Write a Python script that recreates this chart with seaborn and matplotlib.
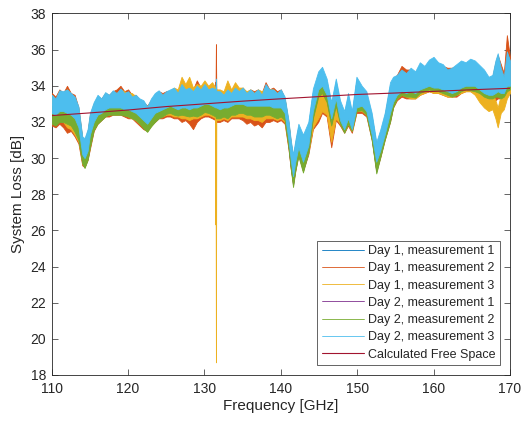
import pandas as pd
import seaborn as sns
import matplotlib
matplotlib.use('Agg')
import matplotlib.pyplot as plt

# frequency points (GHz) where the trace envelopes were read
freq = [110, 110.5, 111, 111.5, 112, 112.5, 113, 113.5, 114, 114.3,
        114.7, 115, 115.5, 116, 116.5, 117, 117.5, 118, 118.5, 119,
        119.5, 120, 120.5, 121, 121.5, 122, 122.5, 123, 123.5, 124,
        124.5, 125, 125.5, 126, 126.5, 127, 127.5, 128, 128.5, 129,
        129.5, 130, 130.5, 131, 131.45, 131.5, 131.55, 132, 132.5, 133,
        133.5, 134, 134.5, 135, 135.5, 136, 136.5, 137, 137.5, 138,
        138.5, 139, 139.5, 140, 140.5, 141, 141.3, 141.6, 141.9, 142.3,
        142.9, 143.6, 144.2, 144.9, 145.4, 146.0, 146.6, 147.2, 147.75, 148.3,
        148.8, 149.3, 149.9, 150.6, 151.2, 151.9, 152.5, 153.0, 153.6, 154.3,
        154.7, 155.2, 155.8, 156.4, 157, 157.6, 158.2, 158.8, 159.4, 160,
        160.6, 161.2, 161.8, 162.4, 163, 163.6, 164.2, 164.8, 165.4, 166,
        166.6, 167.2, 167.7, 168.1, 168.4, 168.8, 169.2, 169.6, 170]

# Day 1, measurement 1 (min / max of the ripple)
d1m1_lo = [32.6, 32.5, 32.7, 32.7, 32.6, 32.5, 32.3, 31.8, 30.3, 30.1,
           30.5, 31.4, 32.1, 32.5, 32.6, 32.8, 32.9, 32.9, 32.9, 32.9,
           32.8, 32.8, 32.7, 32.6, 32.4, 32.2, 32.0, 32.3, 32.6, 32.7,
           32.8, 32.9, 33.0, 32.9, 32.8, 32.9, 32.9, 32.8, 32.9, 32.9,
           33.0, 33.1, 33.1, 33.0, 32.9, 32.9, 32.9, 32.8, 32.9, 32.9,
           33.0, 33.1, 33.1, 33.1, 33.0, 33.0, 33.0, 33.0, 33.0, 33.0,
           33.0, 32.9, 32.9, 32.9, 32.6, 31.1, 30.0, 29.1, 29.9, 30.7,
           29.9, 30.8, 32.7, 33.9, 34.1, 33.6, 32.3, 33.4, 32.2, 31.7,
           32.3, 31.7, 32.9, 33.0, 32.7, 31.4, 29.9, 30.5, 31.4, 32.6,
           33.2, 33.6, 33.8, 33.7, 33.8, 33.7, 33.9, 34.0, 34.1, 34.0,
           34.0, 33.9, 33.8, 33.7, 33.8, 34.0, 34.1, 34.1, 34.1, 33.9,
           33.7, 33.6, 33.6, 33.7, 33.8, 33.7, 33.7, 34.1, 34.1]
d1m1_hi = [33.3, 33.1, 33.55, 33.5, 33.6, 33.4, 33.2, 32.65, 31.0, 30.9,
           31.4, 32.3, 32.9, 33.3, 33.1, 33.45, 33.3, 33.55, 33.4, 33.65,
           33.4, 33.5, 33.2, 33.3, 33.1, 33.0, 32.65, 33.1, 33.4, 33.55,
           33.3, 33.5, 33.6, 33.7, 33.4, 33.9, 33.6, 33.7, 33.5, 33.8,
           33.6, 33.9, 33.6, 33.7, 33.6, 33.6, 33.5, 33.5, 33.3, 33.6,
           33.4, 33.7, 33.5, 33.7, 33.4, 33.6, 33.4, 33.6, 33.3, 33.9,
           33.6, 33.6, 33.4, 33.6, 33.2, 31.9, 30.8, 30.0, 30.8, 31.7,
           31.1, 31.8, 33.65, 34.6, 34.85, 34.2, 32.9, 34.2, 33.0, 32.4,
           33.4, 32.4, 34.3, 33.8, 33.5, 32.3, 30.7, 31.35, 32.3, 34.0,
           34.3, 34.4, 34.7, 34.5, 34.8, 34.6, 35.1, 34.9, 35.25, 35.4,
           35.1, 35.0, 34.7, 34.8, 35.0, 35.2, 35.1, 35.3, 35.2, 34.95,
           34.7, 34.3, 34.4, 35.2, 35.6, 34.8, 34.3, 35.7, 35.2]

# Day 1, measurement 2
d1m2_lo = [31.8, 31.7, 31.9, 31.7, 31.4, 31.5, 31.2, 30.8, 29.6, 29.5,
           29.9, 30.5, 31.5, 31.9, 32.1, 32.3, 32.3, 32.4, 32.4, 32.4,
           32.3, 32.2, 32.2, 32.0, 31.8, 31.6, 31.5, 31.8, 32.0, 32.2,
           32.2, 32.3, 32.3, 32.2, 32.2, 32.0, 32.1, 31.9, 31.6, 32.0,
           32.2, 32.3, 32.3, 32.2, 32.1, 32.1, 32.0, 32.0, 32.1, 32.0,
           32.2, 32.2, 32.2, 32.1, 31.9, 32.0, 31.8, 31.9, 31.7, 32.0,
           32.0, 32.1, 32.0, 32.1, 31.9, 30.5, 29.4, 28.6, 29.3, 30.2,
           29.3, 30.2, 31.6, 32.0, 32.5, 32.3, 30.6, 32.1, 31.8, 31.4,
           31.8, 31.4, 32.5, 32.5, 32.3, 31.0, 29.3, 30.0, 31.0, 32.0,
           32.8, 33.2, 33.4, 33.3, 33.3, 33.3, 33.5, 33.6, 33.7, 33.6,
           33.6, 33.5, 33.4, 33.4, 33.4, 33.6, 33.7, 33.7, 33.6, 33.4,
           33.2, 33.1, 33.0, 33.2, 33.3, 33.3, 33.3, 33.6, 33.7]
d1m2_hi = [33.6, 33.4, 33.8, 33.6, 34.0, 33.6, 33.5, 32.8, 31.1, 31.0,
           31.5, 32.4, 33.0, 33.4, 33.3, 33.6, 33.5, 33.7, 33.8, 34.0,
           33.7, 33.8, 33.5, 33.5, 33.2, 33.1, 32.9, 33.2, 33.5, 33.7,
           33.6, 33.7, 33.7, 33.8, 33.6, 34.2, 33.9, 34.2, 33.8, 34.3,
           33.9, 34.1, 33.9, 34.0, 33.8, 36.3, 33.8, 33.7, 33.6, 33.9,
           33.7, 34.0, 33.8, 33.9, 33.6, 33.8, 33.7, 33.8, 33.6, 34.2,
           33.8, 33.9, 33.7, 33.8, 33.3, 32.0, 30.9, 30.0, 30.8, 31.7,
           31.1, 31.8, 32.8, 33.7, 34.0, 33.4, 32.2, 33.2, 32.5, 32.0,
           32.6, 31.9, 33.2, 33.3, 33.2, 32.1, 30.7, 31.3, 32.3, 33.9,
           34.4, 34.6, 35.1, 34.9, 34.9, 34.7, 35.1, 35.0, 35.3, 35.4,
           35.2, 35.1, 35.0, 35.0, 35.1, 35.3, 35.2, 35.3, 35.3, 35.0,
           34.8, 34.4, 34.5, 35.3, 35.7, 35.2, 34.7, 36.8, 35.6]

# Day 1, measurement 3
d1m3_lo = [32.0, 31.9, 32.1, 32.0, 31.7, 31.6, 31.3, 30.9, 29.7, 29.5,
           30.0, 30.6, 31.6, 32.0, 32.2, 32.4, 32.4, 32.5, 32.4, 32.5,
           32.4, 32.3, 32.2, 32.1, 31.9, 31.7, 31.5, 31.8, 32.1, 32.3,
           32.3, 32.4, 32.4, 32.3, 32.3, 32.2, 32.2, 32.1, 32.2, 32.2,
           32.3, 32.4, 32.4, 32.3, 32.2, 18.7, 32.1, 32.1, 32.2, 32.1,
           32.3, 32.3, 32.3, 32.3, 32.2, 32.2, 32.1, 32.1, 32.0, 32.2,
           32.2, 32.2, 32.1, 32.2, 32.0, 30.6, 29.5, 28.7, 29.4, 30.3,
           29.4, 30.3, 31.7, 32.2, 32.6, 32.4, 30.9, 32.2, 31.9, 31.5,
           31.9, 31.5, 32.6, 32.6, 32.4, 31.1, 29.4, 30.1, 31.1, 32.1,
           32.9, 33.3, 33.5, 33.4, 33.3, 33.3, 33.5, 33.6, 33.7, 33.6,
           33.6, 33.5, 33.4, 33.4, 33.5, 33.6, 33.7, 33.7, 33.5, 33.1,
           32.8, 32.6, 32.7, 32.2, 31.7, 32.5, 32.7, 33.3, 33.6]
d1m3_hi = [33.5, 33.2, 33.7, 33.6, 33.8, 33.5, 33.3, 32.7, 31.0, 30.9,
           31.4, 32.3, 33.0, 33.4, 33.2, 33.6, 33.4, 33.6, 33.6, 33.8,
           33.7, 33.6, 33.6, 33.4, 33.2, 33.1, 32.8, 33.2, 33.5, 33.6,
           33.5, 33.6, 33.7, 33.9, 33.8, 34.5, 34.1, 34.5, 33.9, 34.1,
           34.0, 34.3, 34.0, 34.2, 33.9, 33.9, 33.8, 33.8, 33.7, 34.3,
           33.8, 34.2, 33.9, 33.9, 33.7, 33.8, 33.6, 33.8, 33.7, 33.9,
           33.8, 33.8, 33.6, 33.7, 33.3, 31.9, 30.8, 29.9, 30.7, 31.6,
           31.0, 31.7, 32.7, 33.6, 33.8, 33.3, 32.1, 33.1, 32.4, 31.9,
           32.5, 31.8, 33.1, 33.2, 33.1, 32.0, 30.6, 31.2, 32.2, 33.7,
           34.2, 34.5, 34.8, 34.7, 34.8, 34.6, 35.0, 34.9, 35.2, 35.3,
           35.1, 35.0, 34.8, 34.8, 34.9, 35.2, 35.1, 35.2, 35.1, 34.9,
           34.6, 34.0, 33.6, 33.2, 32.8, 33.5, 33.6, 34.0, 34.1]

# Day 2, measurement 1
d2m1_lo = [32.0, 31.9, 32.1, 32.1, 32.0, 31.9, 31.55, 31.1, 29.8, 29.55,
           30.0, 30.7, 31.65, 32.0, 32.2, 32.4, 32.5, 32.5, 32.5, 32.5,
           32.45, 32.4, 32.3, 32.2, 32.0, 31.75, 31.55, 31.85, 32.1, 32.3,
           32.4, 32.55, 32.6, 32.5, 32.45, 32.5, 32.45, 32.4, 32.45, 32.4,
           32.5, 32.65, 32.6, 32.5, 32.4, 32.3, 32.3, 32.3, 32.4, 32.3,
           32.5, 32.5, 32.6, 32.6, 32.5, 32.5, 32.4, 32.4, 32.4, 32.5,
           32.5, 32.4, 32.3, 32.4, 32.2, 30.7, 29.5, 28.5, 29.4, 30.2,
           29.3, 30.4, 32.3, 33.5, 33.7, 33.2, 31.9, 33.0, 32.0, 31.5,
           32.0, 31.6, 32.7, 32.75, 32.5, 31.1, 29.25, 30.1, 31.1, 32.1,
           32.9, 33.4, 33.6, 33.5, 33.5, 33.45, 33.7, 33.8, 33.9, 33.8,
           33.8, 33.7, 33.6, 33.5, 33.6, 33.8, 33.9, 33.85, 33.8, 33.7,
           33.5, 33.4, 33.4, 33.5, 33.5, 33.4, 33.5, 33.8, 33.9]
d2m1_hi = [32.8, 32.7, 32.8, 32.9, 32.8, 32.7, 32.4, 31.9, 30.5, 30.2,
           30.7, 31.5, 32.2, 32.6, 32.8, 32.9, 33.0, 33.0, 33.0, 33.0,
           32.9, 32.8, 32.8, 32.6, 32.4, 32.2, 32.0, 32.4, 32.7, 32.8,
           32.9, 33.0, 33.0, 32.9, 32.9, 32.9, 32.9, 32.8, 32.9, 32.9,
           33.0, 33.1, 33.1, 33.0, 32.9, 32.9, 32.9, 32.8, 32.9, 32.9,
           33.0, 33.1, 33.1, 33.1, 33.0, 33.0, 33.0, 33.0, 33.0, 33.0,
           33.0, 32.9, 32.9, 32.9, 32.6, 31.2, 30.1, 29.1, 29.9, 30.7,
           29.9, 30.8, 32.9, 34.0, 34.1, 33.7, 32.5, 33.4, 32.5, 32.0,
           32.6, 31.9, 33.2, 33.2, 32.9, 31.5, 29.9, 30.5, 31.5, 32.7,
           33.3, 33.8, 33.9, 33.8, 33.9, 33.8, 34.0, 34.1, 34.2, 34.1,
           34.1, 34.0, 33.9, 33.8, 33.9, 34.1, 34.2, 34.2, 34.2, 34.0,
           33.8, 33.7, 33.7, 33.8, 33.9, 33.8, 33.8, 34.2, 34.2]

# Day 2, measurement 2
d2m2_lo = [31.9, 31.8, 32.0, 32.0, 31.9, 31.8, 31.45, 31.0, 29.7, 29.45,
           29.9, 30.6, 31.55, 31.9, 32.1, 32.3, 32.4, 32.4, 32.4, 32.4,
           32.35, 32.3, 32.2, 32.1, 31.9, 31.65, 31.45, 31.75, 32.0, 32.2,
           32.3, 32.45, 32.5, 32.4, 32.35, 32.4, 32.35, 32.3, 32.35, 32.3,
           32.4, 32.55, 32.5, 32.4, 32.3, 32.2, 32.2, 32.2, 32.3, 32.2,
           32.4, 32.4, 32.5, 32.5, 32.4, 32.4, 32.3, 32.3, 32.3, 32.4,
           32.4, 32.3, 32.2, 32.3, 32.1, 30.6, 29.4, 28.4, 29.3, 30.1,
           29.2, 30.3, 32.2, 33.4, 33.6, 33.1, 31.8, 32.9, 31.9, 31.4,
           31.9, 31.5, 32.6, 32.65, 32.4, 31.0, 29.15, 30.0, 31.0, 32.0,
           32.8, 33.3, 33.5, 33.4, 33.4, 33.35, 33.6, 33.7, 33.8, 33.7,
           33.7, 33.6, 33.5, 33.4, 33.5, 33.7, 33.8, 33.75, 33.7, 33.6,
           33.4, 33.3, 33.3, 33.4, 33.4, 33.3, 33.4, 33.7, 33.8]
d2m2_hi = [32.9, 32.8, 32.9, 33.0, 32.9, 32.8, 32.5, 32.0, 30.6, 30.3,
           30.8, 31.6, 32.3, 32.7, 32.9, 33.0, 33.1, 33.1, 33.1, 33.1,
           33.0, 32.9, 32.9, 32.7, 32.5, 32.3, 32.1, 32.5, 32.8, 32.9,
           33.0, 33.1, 33.1, 33.0, 33.0, 33.0, 33.0, 32.9, 33.0, 33.0,
           33.1, 33.2, 33.2, 33.1, 33.0, 33.0, 33.0, 32.9, 33.0, 33.0,
           33.1, 33.2, 33.2, 33.2, 33.1, 33.1, 33.1, 33.1, 33.1, 33.1,
           33.1, 33.0, 33.0, 33.0, 32.7, 31.3, 30.2, 29.2, 30.0, 30.8,
           30.0, 30.9, 33.0, 34.1, 34.2, 33.8, 32.6, 33.5, 32.6, 32.1,
           32.7, 32.0, 33.3, 33.3, 33.0, 31.6, 30.0, 30.6, 31.6, 32.8,
           33.4, 33.9, 34.0, 33.9, 34.0, 33.9, 34.1, 34.2, 34.3, 34.2,
           34.2, 34.1, 34.0, 33.9, 34.0, 34.2, 34.3, 34.3, 34.3, 34.1,
           33.9, 33.8, 33.8, 33.9, 34.0, 33.9, 33.9, 34.3, 34.3]

# Day 2, measurement 3
d2m3_lo = [32.5, 32.4, 32.6, 32.6, 32.5, 32.4, 32.2, 31.7, 30.2, 30.0,
           30.4, 31.3, 32.0, 32.4, 32.5, 32.7, 32.8, 32.8, 32.8, 32.8,
           32.7, 32.7, 32.6, 32.5, 32.3, 32.1, 31.9, 32.2, 32.5, 32.6,
           32.7, 32.8, 32.9, 32.8, 32.7, 32.8, 32.8, 32.7, 32.8, 32.8,
           32.9, 33.0, 33.0, 32.9, 32.8, 32.8, 32.8, 32.7, 32.8, 32.8,
           32.9, 33.0, 33.0, 33.0, 32.9, 32.9, 32.9, 32.9, 32.9, 32.9,
           32.9, 32.8, 32.8, 32.8, 32.5, 31.0, 29.9, 29.0, 29.8, 30.6,
           29.8, 30.7, 32.6, 33.8, 34.0, 33.5, 32.2, 33.3, 32.1, 31.6,
           32.2, 31.6, 32.8, 32.9, 32.6, 31.3, 29.8, 30.4, 31.3, 32.5,
           33.1, 33.5, 33.7, 33.6, 33.7, 33.6, 33.8, 33.9, 34.0, 33.9,
           33.9, 33.8, 33.7, 33.6, 33.7, 33.9, 34.0, 34.0, 34.0, 33.8,
           33.6, 33.5, 33.5, 33.6, 33.7, 33.6, 33.6, 34.0, 34.0]
d2m3_hi = [33.5, 33.3, 33.75, 33.7, 33.8, 33.6, 33.4, 32.85, 31.2, 31.1,
           31.6, 32.5, 33.1, 33.5, 33.3, 33.65, 33.5, 33.75, 33.6, 33.85,
           33.6, 33.7, 33.4, 33.5, 33.3, 33.2, 32.85, 33.3, 33.6, 33.75,
           33.5, 33.7, 33.8, 33.9, 33.6, 34.1, 33.8, 33.9, 33.7, 34.0,
           33.8, 34.1, 33.8, 33.9, 33.8, 34.4, 33.7, 33.7, 33.5, 33.8,
           33.6, 33.9, 33.7, 33.9, 33.6, 33.8, 33.6, 33.8, 33.5, 34.1,
           33.8, 33.8, 33.6, 33.8, 33.4, 32.1, 31.0, 30.2, 31.0, 31.9,
           31.3, 32.0, 33.85, 34.8, 35.05, 34.4, 33.1, 34.4, 33.2, 32.6,
           33.6, 32.6, 34.5, 34.0, 33.7, 32.5, 30.9, 31.55, 32.5, 34.2,
           34.5, 34.6, 34.9, 34.7, 35.0, 34.8, 35.3, 35.1, 35.45, 35.6,
           35.3, 35.2, 34.9, 35.0, 35.2, 35.4, 35.3, 35.5, 35.4, 35.15,
           34.9, 34.5, 34.6, 35.4, 35.8, 35.0, 34.5, 35.9, 35.4]

# calculated free space loss
fs_freq = [110, 115, 120, 125, 130, 135, 140, 145, 150, 155, 160, 165, 170]
fs_loss = [32.35, 32.5, 32.66, 32.85, 33.0, 33.15, 33.28, 33.4, 33.52, 33.6, 33.69, 33.78, 33.86]

series = [
    ('Day 1, measurement 1', d1m1_lo, d1m1_hi, '#0072BD'),
    ('Day 1, measurement 2', d1m2_lo, d1m2_hi, '#D95319'),
    ('Day 1, measurement 3', d1m3_lo, d1m3_hi, '#EDB120'),
    ('Day 2, measurement 1', d2m1_lo, d2m1_hi, '#7E2F8E'),
    ('Day 2, measurement 2', d2m2_lo, d2m2_hi, '#77AC30'),
    ('Day 2, measurement 3', d2m3_lo, d2m3_hi, '#4DBEEE'),
]

sns.set_theme(style='ticks')
plt.rcParams['font.family'] = ['Liberation Sans', 'DejaVu Sans']

fig = plt.figure(figsize=(5.23, 4.24), dpi=100)
ax = fig.add_axes([0.0989, 0.1156, 0.8761, 0.8526])

for i, (name, lo, hi, c) in enumerate(series):
    df = pd.DataFrame({'freq': freq + freq, 'loss': lo + hi})
    # band between min and max of the ripple = the dense trace
    sns.lineplot(data=df, x='freq', y='loss', estimator='mean', errorbar=('pi', 100),
                 color=c, linewidth=0.6, label=name, zorder=2 + i, ax=ax,
                 err_kws={'alpha': 1, 'linewidth': 0.6, 'edgecolor': c, 'zorder': 2 + i})

fs = pd.DataFrame({'freq': fs_freq, 'loss': fs_loss})
sns.lineplot(data=fs, x='freq', y='loss', color='#A2142F', linewidth=0.8,
             label='Calculated Free Space', zorder=20, ax=ax)

ax.set_xlim(110, 170)
ax.set_ylim(18, 38)
ax.set_xticks(range(110, 171, 10))
ax.set_yticks(range(18, 39, 2))
ax.set_xlabel('Frequency [GHz]', fontsize=11, color='0.15', labelpad=2)
ax.set_ylabel('System Loss [dB]', fontsize=11, color='0.15', labelpad=4)
ax.tick_params(direction='in', top=True, right=True, length=4, width=0.5,
               colors='0.15', labelsize=10)
ax.tick_params(axis='x', pad=5)
ax.tick_params(axis='y', pad=4)
for sp in ax.spines.values():
    sp.set_visible(True)
    sp.set_linewidth(0.6)
    sp.set_color('0.15')

leg = ax.legend(loc='lower right', fontsize=9, frameon=True, fancybox=False,
                edgecolor='0.15', framealpha=1, handlelength=3.4, handletextpad=0.3,
                labelspacing=0.42, borderpad=0.35, borderaxespad=0.8)
leg.get_frame().set_linewidth(0.5)

fig.savefig('out.png', dpi=100)
